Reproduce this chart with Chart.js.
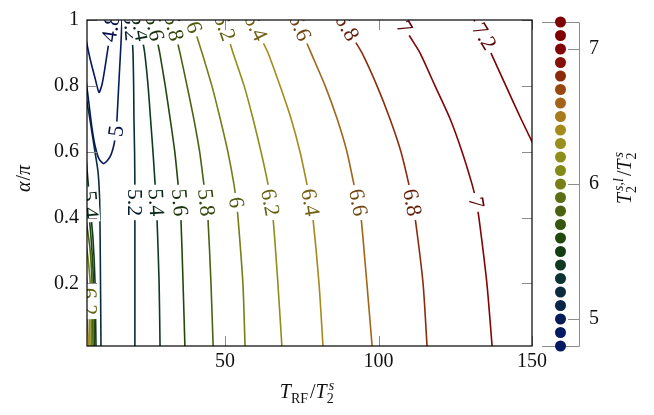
<!DOCTYPE html>
<html>
<head>
<meta charset="utf-8">
<script src="https://cdn.jsdelivr.net/npm/chart.js@4"></script>
<style>
html, body { margin: 0; padding: 0; background: #fff; }
#wrap { position: relative; width: 654px; height: 415px; }
#wrap canvas { position: absolute; left: 0; top: 0; }
</style>
</head>
<body>
<div id="wrap">
  <canvas id="main" width="654" height="415"></canvas>
  <canvas id="cbar" width="654" height="415"></canvas>
</div>
<script>
// alpha/pi values at which the right-hand contour branches were read
var alphaGrid = [1, 0.95, 0.9, 0.8, 0.7, 0.6, 0.5, 0.45, 0.4, 0.2, 0.01];

// right-hand branches: T_RF/T2s position at each alphaGrid value
var rightLevels = [5.2, 5.4, 5.6, 5.8, 6, 6.2, 6.4, 6.6, 6.8, 7, 7.2];
var rightX = [
    [19.3, 19.7, 20.0, 20.2, 20.3, 20.5, 20.6, 20.6, 20.6, 20.6, 20.6],
    [21.9, 22.9, 23.8, 24.9, 25.7, 26.5, 27.2, 27.5, 27.8, 28.5, 28.8],
    [26.5, 27.6, 28.7, 30.5, 32.1, 33.6, 34.7, 35.2, 35.6, 36.3, 36.9],
    [32.7, 34.0, 35.3, 37.6, 39.8, 41.7, 43.1, 43.8, 44.4, 45.4, 46.1],
    [39.2, 40.8, 42.5, 45.7, 48.4, 50.9, 52.9, 53.6, 54.2, 55.8, 56.5],
    [49.0, 50.9, 52.6, 56.2, 59.1, 61.7, 64.0, 64.6, 65.6, 67.2, 68.5],
    [58.8, 61.4, 64.0, 67.9, 71.5, 74.4, 76.7, 77.7, 78.6, 80.6, 81.9],
    [73.4, 75.7, 78.0, 82.6, 86.5, 89.7, 92.0, 93.3, 94.3, 96.2, 97.9],
    [88.4, 91.4, 94.6, 99.5, 103.7, 107.3, 109.9, 110.9, 111.9, 114.5, 115.8],
    [107.0, 110.2, 113.5, 118.4, 123.3, 127.2, 130.5, 131.8, 132.7, 135.3, 137.0],
    [131.1, 134.4, 136.6, 141.5, 146.4, 151.6]
];

// closed-in loops near the top left corner
var loopLevels = [4.8, 5];
var loopX = [
    [4.67, 5.98, 7.61, 8.91, 9.89, 10.87, 11.84, 12.82, 13.15],
    [4.67, 5.65, 6.63, 7.61, 8.91, 10.54, 12.49, 13.80, 14.45, 14.78, 15.43, 16.08, 16.40]
];
var loopA = [
    [0.941, 0.883, 0.824, 0.780, 0.804, 0.856, 0.915, 0.977, 1.006],
    [0.818, 0.745, 0.672, 0.619, 0.578, 0.564, 0.584, 0.622, 0.663, 0.701, 0.818, 0.930, 1.006]
];

// steep branches squeezed against the left edge
var leftLevels = [5.2, 5.4, 5.6, 5.8, 6, 6.2, 6.4];
var leftX = [
    [9.56, 9.40, 9.24, 9.07, 8.58, 7.61, 6.63, 5.65, 4.67],
    [7.93, 7.61, 6.96, 5.98, 5.33, 4.67],
    [7.44, 7.12, 6.47, 5.65, 4.67],
    [6.96, 6.63, 5.98, 4.67],
    [6.47, 6.14, 5.33, 4.67],
    [5.98, 5.65, 4.67],
    [5.49, 5.16, 4.67]
];
var leftA = [
    [0.01, 0.203, 0.379, 0.467, 0.540, 0.599, 0.657, 0.716, 0.766],
    [0.01, 0.203, 0.335, 0.438, 0.511, 0.584],
    [0.01, 0.203, 0.320, 0.408, 0.482],
    [0.01, 0.203, 0.306, 0.394],
    [0.01, 0.189, 0.277, 0.320],
    [0.01, 0.145, 0.233],
    [0.01, 0.086, 0.145]
];

// colour bar
var cbarLevels = [7.2, 7.1, 7.0, 6.9, 6.8, 6.7, 6.6, 6.5, 6.4, 6.3, 6.2, 6.1, 6.0,
                  5.9, 5.8, 5.7, 5.6, 5.5, 5.4, 5.3, 5.2, 5.1, 5.0, 4.9, 4.8];
var cbarColors = ['#7f0000', '#800000', '#820404', '#861008', '#8c2c0c', '#98480f', '#a26418',
                  '#a87b1c', '#a48a1c', '#9a8e1c', '#8e8e1a', '#828a18', '#757f16', '#5c6e12',
                  '#4a6210', '#36550e', '#22480e', '#153d12', '#0e3a22', '#0b3430', '#0a2c3c',
                  '#082448', '#061c58', '#051a60', '#041964'];
var cbarTicks = [5, 6, 7];
var xTicks = [50, 100, 150];
var yTicks = [0.2, 0.4, 0.6, 0.8, 1];

var serif = '"Liberation Serif", "DejaVu Serif", serif';

function colorFor(level) {
    for (var i = 0; i < cbarLevels.length; i++) {
        if (Math.abs(cbarLevels[i] - level) < 1e-6) return cbarColors[i];
    }
    return '#000';
}

function darker(hex, f) {
    var n = parseInt(hex.slice(1), 16);
    var r = Math.round(((n >> 16) & 255) * f), g = Math.round(((n >> 8) & 255) * f), b = Math.round((n & 255) * f);
    return 'rgb(' + r + ',' + g + ',' + b + ')';
}

function makeLine(level, xs, as, labels) {
    return {
        label: String(level),
        level: level,
        labelAlphas: labels || [],
        data: xs.map(function(x, i) { return { x: x, y: as[i] }; }),
        showLine: true,
        borderColor: colorFor(level),
        borderWidth: 1.6,
        pointRadius: 0,
        tension: 0.22,
        fill: false
    };
}

var datasets = [];
rightLevels.forEach(function(lv, i) {
    var labs = lv === 7.2 ? [0.95] : [0.978, 0.446];
    datasets.push(makeLine(lv, rightX[i], alphaGrid, labs));
});
loopLevels.forEach(function(lv, i) {
    datasets.push(makeLine(lv, loopX[i], loopA[i], i === 0 ? [0.975] : [0.663]));
});
leftLevels.forEach(function(lv, i) {
    var labs = lv === 5.4 ? [0.44] : (lv === 6.2 ? [0.145] : []);
    datasets.push(makeLine(lv, leftX[i], leftA[i], labs));
});

// math-ish axis titles
function mathFont(size, italic) {
    return (italic ? 'italic ' : '') + size + 'px ' + serif;
}
function drawMath(ctx, parts, cx, cy, rot) {
    var S = 20, s = 14, items = [], w = 0;
    ctx.save();
    ctx.translate(cx, cy);
    ctx.rotate(rot || 0);
    ctx.textBaseline = 'alphabetic';
    ctx.textAlign = 'left';
    parts.forEach(function(p) {
        if (p.t !== undefined) {
            ctx.font = mathFont(S, p.i);
            items.push({ t: p.t, f: ctx.font, x: w, y: 0 });
            w += ctx.measureText(p.t).width + (p.i ? 1 : 0);
        } else {
            var wsub = 0, wsup = 0;
            if (p.sub) {
                ctx.font = mathFont(s, p.subI);
                items.push({ t: p.sub, f: ctx.font, x: w - 1, y: 5 });
                wsub = ctx.measureText(p.sub).width - 1;
            }
            if (p.sup) {
                ctx.font = mathFont(s, p.supI);
                items.push({ t: p.sup, f: ctx.font, x: w + 1, y: -8 });
                wsup = ctx.measureText(p.sup).width + 1;
            }
            w += Math.max(wsub, wsup) + 2;
        }
    });
    ctx.fillStyle = '#111';
    items.forEach(function(it) {
        ctx.font = it.f;
        ctx.fillText(it.t, it.x - w / 2, it.y);
    });
    ctx.restore();
}

var contourLabels = {
    id: 'contourLabels',
    afterDatasetsDraw: function(chart) {
        var ctx = chart.ctx, area = chart.chartArea;
        var xs = chart.scales.x, ys = chart.scales.y;
        ctx.save();
        ctx.beginPath();
        ctx.rect(area.left, area.top, area.right - area.left, area.bottom - area.top);
        ctx.clip();
        ctx.font = '22px ' + serif;
        ctx.textAlign = 'center';
        ctx.textBaseline = 'middle';
        chart.data.datasets.forEach(function(ds) {
            ds.labelAlphas.forEach(function(a) {
                var pts = ds.data, best = null;
                for (var i = 0; i < pts.length - 1; i++) {
                    var p = pts[i], q = pts[i + 1];
                    if ((p.y - a) * (q.y - a) <= 0 && p.y !== q.y) {
                        var t = (a - p.y) / (q.y - p.y);
                        var x = p.x + t * (q.x - p.x);
                        if (!best || x > best.x) best = { x: x, p: p, q: q };
                    }
                }
                if (!best) return;
                var px = xs.getPixelForValue(best.x), py = ys.getPixelForValue(a);
                var dx = xs.getPixelForValue(best.q.x) - xs.getPixelForValue(best.p.x);
                var dy = ys.getPixelForValue(best.q.y) - ys.getPixelForValue(best.p.y);
                var ang = Math.atan2(dy, dx);
                if (ang > Math.PI / 2 + 1e-6) ang -= Math.PI;
                else if (ang <= -Math.PI / 2 + 1e-6) ang += Math.PI;
                var txt = String(ds.level);
                var w = ctx.measureText(txt).width;
                ctx.save();
                ctx.translate(px, py);
                ctx.rotate(ang);
                ctx.fillStyle = '#fff';
                ctx.fillRect(-w / 2 - 4, -9, w + 8, 18);
                ctx.fillStyle = darker(ds.borderColor, 0.7);
                ctx.fillText(txt, 0, 1);
                ctx.restore();
            });
        });
        ctx.restore();
    }
};

var mainFrame = {
    id: 'mainFrame',
    afterDraw: function(chart) {
        var ctx = chart.ctx, a = chart.chartArea;
        var xs = chart.scales.x, ys = chart.scales.y;
        ctx.save();
        ctx.strokeStyle = '#8c8c8c';
        ctx.lineWidth = 1;
        ctx.beginPath();
        xs.ticks.forEach(function(t) {
            var p = Math.round(xs.getPixelForValue(t.value)) + 0.5;
            ctx.moveTo(p, a.bottom); ctx.lineTo(p, a.bottom - 10);
            ctx.moveTo(p, a.top); ctx.lineTo(p, a.top + 10);
        });
        ys.ticks.forEach(function(t) {
            var p = Math.round(ys.getPixelForValue(t.value)) + 0.5;
            ctx.moveTo(a.left, p); ctx.lineTo(a.left + 10, p);
            ctx.moveTo(a.right, p); ctx.lineTo(a.right - 10, p);
        });
        ctx.stroke();
        ctx.strokeStyle = '#000';
        ctx.lineWidth = 1.2;
        ctx.strokeRect(a.left, a.top, a.right - a.left, a.bottom - a.top);
        ctx.restore();

        drawMath(ctx, [{ t: 'α', i: 1 }, { t: '/' }, { t: 'π', i: 1 }], 30, 178, -Math.PI / 2);
        drawMath(ctx, [{ t: 'T', i: 1 }, { sub: 'RF' }, { t: '/' }, { t: 'T', i: 1 }, { sub: '2', sup: 's', supI: 1 }],
                 308, 398, 0);
    }
};

var cbarFrame = {
    id: 'cbarFrame',
    beforeDatasetsDraw: function(chart) {
        var ctx = chart.ctx, a = chart.chartArea, ys = chart.scales.y;
        ctx.save();
        ctx.strokeStyle = '#8c8c8c';
        ctx.lineWidth = 1;
        ctx.beginPath();
        ctx.moveTo(a.left, a.top + 0.5); ctx.lineTo(a.right + 0.5, a.top + 0.5);
        ctx.lineTo(a.right + 0.5, a.bottom + 0.5); ctx.lineTo(a.left, a.bottom + 0.5);
        ys.ticks.forEach(function(t) {
            var p = Math.round(ys.getPixelForValue(t.value)) + 0.5;
            ctx.moveTo(a.right, p); ctx.lineTo(a.right - 11, p);
        });
        ctx.stroke();
        ctx.restore();
    },
    afterDraw: function(chart) {
        drawMath(chart.ctx, [{ t: 'T', i: 1 }, { sub: '2', sup: 's,l', supI: 1 }, { t: '/' }, { t: 'T', i: 1 }, { sub: '2', sup: 's', supI: 1 }],
                 631, 177, -Math.PI / 2);
    }
};

var tickFont = { family: serif, size: 20 };

new Chart(document.getElementById('main'), {
    type: 'scatter',
    data: { datasets: datasets },
    options: {
        responsive: false,
        animation: false,
        events: [],
        layout: { padding: { left: 0, top: 8, right: 122, bottom: 0 } },
        plugins: { legend: { display: false }, tooltip: { enabled: false } },
        scales: {
            x: {
                type: 'linear', min: 5, max: 150,
                grid: { display: false, drawTicks: false },
                border: { display: false },
                afterBuildTicks: function(s) { s.ticks = xTicks.map(function(v) { return { value: v }; }); },
                afterFit: function(s) { s.height = 69; },
                ticks: { font: tickFont, color: '#111', padding: 4, maxRotation: 0,
                         callback: function(v) { return String(v); } }
            },
            y: {
                type: 'linear', min: 0.01, max: 1,
                grid: { display: false, drawTicks: false },
                border: { display: false },
                afterBuildTicks: function(s) { s.ticks = yTicks.map(function(v) { return { value: v }; }); },
                afterFit: function(s) { s.width = 87; },
                ticks: { font: tickFont, color: '#111', padding: 8,
                         callback: function(v) { return String(Math.round(v * 100) / 100); } }
            }
        }
    },
    plugins: [contourLabels, mainFrame]
});

new Chart(document.getElementById('cbar'), {
    type: 'scatter',
    data: {
        datasets: [{
            data: cbarLevels.map(function(v) { return { x: 0, y: v }; }),
            pointBackgroundColor: cbarColors,
            pointBorderWidth: 0,
            pointRadius: 5.5,
            clip: false
        }]
    },
    options: {
        responsive: false,
        animation: false,
        events: [],
        layout: { padding: { left: 542, top: 8, right: 0, bottom: 69 } },
        plugins: { legend: { display: false }, tooltip: { enabled: false } },
        scales: {
            x: { type: 'linear', min: -1, max: 1, display: false },
            y: {
                type: 'linear', position: 'right', min: 4.8, max: 7.2,
                grid: { display: false, drawTicks: false },
                border: { display: false },
                afterBuildTicks: function(s) { s.ticks = cbarTicks.map(function(v) { return { value: v }; }); },
                afterFit: function(s) { s.width = 75; },
                ticks: { font: tickFont, color: '#111', padding: 10,
                         callback: function(v) { return String(v); } }
            }
        }
    },
    plugins: [cbarFrame]
});
</script>
</body>
</html>
